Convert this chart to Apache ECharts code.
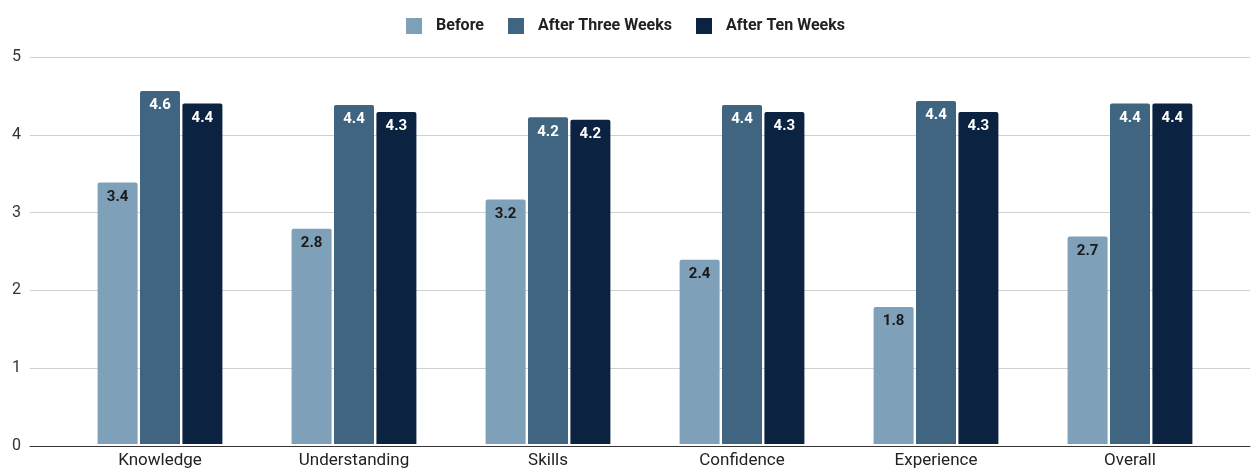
<!DOCTYPE html>
<html>
<head>
<meta charset="utf-8">
<script src="https://cdn.jsdelivr.net/npm/echarts@6/dist/echarts.min.js"></script>
<style>
html,body{margin:0;padding:0;background:#fff;}
#chart{width:1251px;height:469px;}
</style>
</head>
<body>
<div id="chart"></div>
<script>
const categories = ['Knowledge', 'Understanding', 'Skills', 'Confidence', 'Experience', 'Overall'];
const seriesNames = ['Before', 'After Three Weeks', 'After Ten Weeks'];
const before = [3.38, 2.78, 3.16, 2.38, 1.77, 2.68];
const afterThree = [4.56, 4.38, 4.22, 4.38, 4.43, 4.40];
const afterTen = [4.40, 4.29, 4.19, 4.29, 4.29, 4.40];
const yTicks = [0, 1, 2, 3, 4, 5];

const colors = ['#7ea1b9', '#3f6580', '#0b2341'];
const labelColors = ['#1a1a1a', '#ffffff', '#ffffff'];
const values = [before, afterThree, afterTen];

const chart = echarts.init(document.getElementById('chart'));
const font = 'Roboto, "Noto Sans", sans-serif';

const option = {
  animation: false,
  backgroundColor: '#ffffff',
  textStyle: { fontFamily: font },
  legend: {
    top: 13,
    left: 'center',
    icon: 'rect',
    itemWidth: 16,
    itemHeight: 16,
    itemGap: 24,
    textStyle: { fontFamily: font, fontSize: 16, fontWeight: 'bold', color: '#222', padding: [0, 0, 0, 9] },
    data: seriesNames
  },
  grid: [
    { left: 30, right: 1, top: 57, bottom: 23 },
    { left: 63, right: 24, top: 57, bottom: 23 }
  ],
  xAxis: [
    {
      gridIndex: 0, type: 'value', min: 0, max: 1,
      axisLine: { show: true, onZero: false, lineStyle: { color: '#333', width: 1 } },
      axisTick: { show: false }, axisLabel: { show: false }, splitLine: { show: false }
    },
    {
      gridIndex: 1, type: 'category', data: categories,
      axisLine: { show: false }, axisTick: { show: false },
      axisLabel: { color: '#222', fontSize: 17, margin: 8, fontFamily: font }
    }
  ],
  yAxis: [
    {
      gridIndex: 0, type: 'value', min: yTicks[0], max: yTicks[yTicks.length - 1], interval: 1,
      axisLine: { show: false }, axisTick: { show: false },
      axisLabel: { color: '#333', fontSize: 16, margin: 9, fontFamily: font },
      splitLine: { lineStyle: { color: '#d0d0d0', width: 1 } }
    },
    {
      gridIndex: 1, type: 'value', min: 0, max: 5, interval: 1, show: false,
      splitLine: { show: false }
    }
  ],
  series: seriesNames.map((name, i) => ({
    name: name,
    type: 'bar',
    xAxisIndex: 1,
    yAxisIndex: 1,
    data: values[i],
    barWidth: 40,
    barGap: '6%',
    itemStyle: { color: colors[i], borderRadius: [2, 2, 0, 0] },
    label: {
      show: true,
      position: 'insideTop',
      distance: 7,
      fontSize: 15,
      fontWeight: 'bold',
      fontFamily: font,
      color: labelColors[i],
      formatter: p => p.value.toFixed(1)
    }
  }))
};
chart.setOption(option);
</script>
</body>
</html>
